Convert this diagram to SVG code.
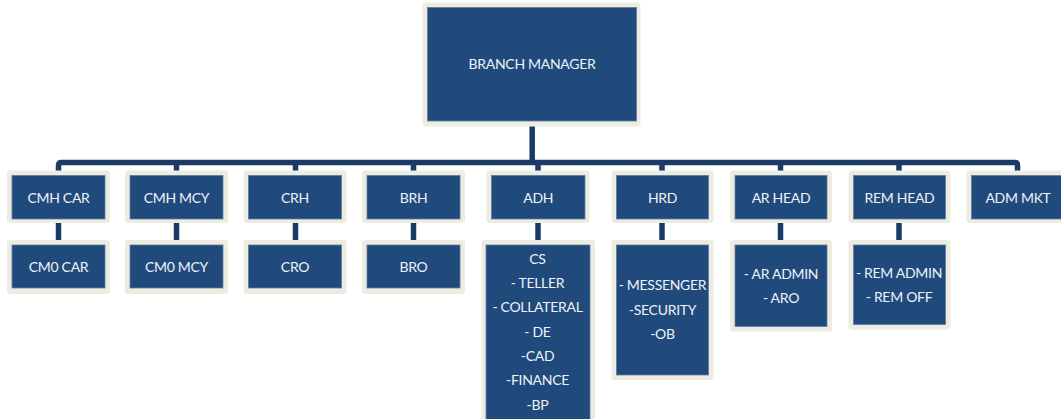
<svg xmlns="http://www.w3.org/2000/svg" width="1061" height="419" viewBox="0 0 1061 419">
  <style>
    .frame { fill: #EEECE1; }
    .box { fill: #204A7C; stroke: #5B7DA8; stroke-width: 0.8; }
    .lbl { font-family: Lato, "Open Sans", "Liberation Sans", sans-serif; font-size: 14px; letter-spacing: -0.3px; fill: #EEF2F8; text-anchor: middle; }
    .wire { fill: none; stroke: #1B3A64; stroke-width: 5.5; }
  </style>
  <rect width="1061" height="419" fill="#FFFFFF"/>

  <!-- reporting lines -->
  <g id="connectors">
    <line class="wire" x1="532.2" y1="120" x2="532.2" y2="163"/>
    <path class="wire" d="M58.5,176 V165.5 Q58.5,162.5 61.5,162.5 H1014.5 Q1017.5,162.5 1017.5,165.5 V176"/>
    <line class="wire" x1="176.5" y1="162.5" x2="176.5" y2="176"/>
    <line class="wire" x1="295.5" y1="162.5" x2="295.5" y2="176"/>
    <line class="wire" x1="413.5" y1="162.5" x2="413.5" y2="176"/>
    <line class="wire" x1="538" y1="162.5" x2="538" y2="176"/>
    <line class="wire" x1="662" y1="162.5" x2="662" y2="176"/>
    <line class="wire" x1="780.5" y1="162.5" x2="780.5" y2="176"/>
    <line class="wire" x1="899" y1="162.5" x2="899" y2="176"/>
    <line class="wire" x1="58.5" y1="218" x2="58.5" y2="246"/>
    <line class="wire" x1="176.5" y1="218" x2="176.5" y2="246"/>
    <line class="wire" x1="295.5" y1="218" x2="295.5" y2="246"/>
    <line class="wire" x1="413.5" y1="218" x2="413.5" y2="246"/>
    <line class="wire" x1="538" y1="218" x2="538" y2="246"/>
    <line class="wire" x1="662" y1="218" x2="662" y2="246"/>
    <line class="wire" x1="780.5" y1="218" x2="780.5" y2="246"/>
    <line class="wire" x1="899" y1="218" x2="899" y2="246"/>
  </g>

  <g id="branch-manager">
    <rect class="frame" x="422.5" y="2.5" width="218" height="124" rx="3"/>
    <rect class="box" x="427.5" y="7.5" width="209" height="113.5"/>
    <text class="lbl" x="532" y="69">BRANCH MANAGER</text>
  </g>

  <!-- heads -->
  <g id="cmh-car">
    <rect class="frame" x="7" y="170.5" width="103" height="52.5" rx="3"/>
    <rect class="box" x="12" y="175.5" width="93" height="43.5"/>
    <text class="lbl" x="58.5" y="202.5">CMH CAR</text>
  </g>
  <g id="cmh-mcy">
    <rect class="frame" x="125" y="170.5" width="103" height="52.5" rx="3"/>
    <rect class="box" x="130" y="175.5" width="93" height="43.5"/>
    <text class="lbl" x="176.5" y="202.5">CMH MCY</text>
  </g>
  <g id="crh">
    <rect class="frame" x="243.5" y="170.5" width="103" height="52.5" rx="3"/>
    <rect class="box" x="248.5" y="175.5" width="93" height="43.5"/>
    <text class="lbl" x="295" y="202.5">CRH</text>
  </g>
  <g id="brh">
    <rect class="frame" x="362" y="170.5" width="103" height="52.5" rx="3"/>
    <rect class="box" x="367" y="175.5" width="93" height="43.5"/>
    <text class="lbl" x="413.5" y="202.5">BRH</text>
  </g>
  <g id="adh">
    <rect class="frame" x="486.5" y="170.5" width="103" height="52.5" rx="3"/>
    <rect class="box" x="491.5" y="175.5" width="93.5" height="43.5"/>
    <text class="lbl" x="538.2" y="202.5">ADH</text>
  </g>
  <g id="hrd">
    <rect class="frame" x="611.5" y="170.5" width="102" height="52.5" rx="3"/>
    <rect class="box" x="616.5" y="175.5" width="92" height="43.5"/>
    <text class="lbl" x="662.5" y="202.5">HRD</text>
  </g>
  <g id="ar-head">
    <rect class="frame" x="730" y="170.5" width="102" height="52.5" rx="3"/>
    <rect class="box" x="735" y="175.5" width="92" height="43.5"/>
    <text class="lbl" x="781" y="202.5">AR HEAD</text>
  </g>
  <g id="rem-head">
    <rect class="frame" x="848.5" y="170.5" width="102" height="52.5" rx="3"/>
    <rect class="box" x="853.5" y="175.5" width="92" height="43.5"/>
    <text class="lbl" x="899.5" y="202.5">REM HEAD</text>
  </g>
  <g id="adm-mkt">
    <rect class="frame" x="966.5" y="170.5" width="105" height="52.5" rx="3"/>
    <rect class="box" x="971.5" y="175.5" width="95" height="43.5"/>
    <text class="lbl" x="1018" y="202.5">ADM MKT</text>
  </g>

  <!-- staff -->
  <g id="cm0-car">
    <rect class="frame" x="7" y="240" width="103" height="54" rx="3"/>
    <rect class="box" x="12" y="245" width="93" height="43"/>
    <text class="lbl" x="58.5" y="271.5">CM0 CAR</text>
  </g>
  <g id="cm0-mcy">
    <rect class="frame" x="125" y="240" width="103" height="54" rx="3"/>
    <rect class="box" x="130" y="245" width="93" height="43"/>
    <text class="lbl" x="176.5" y="271.5">CM0 MCY</text>
  </g>
  <g id="cro">
    <rect class="frame" x="243.5" y="240" width="103" height="54" rx="3"/>
    <rect class="box" x="248.5" y="245" width="93" height="43"/>
    <text class="lbl" x="295" y="271.5">CRO</text>
  </g>
  <g id="bro">
    <rect class="frame" x="362" y="240" width="103" height="54" rx="3"/>
    <rect class="box" x="367" y="245" width="93" height="43"/>
    <text class="lbl" x="413.5" y="271.5">BRO</text>
  </g>
  <g id="adh-staff">
    <rect class="frame" x="481.5" y="240" width="113.5" height="190" rx="3"/>
    <rect class="box" x="486" y="245" width="104" height="185"/>
    <text class="lbl" x="537.5" y="263.5">CS</text>
    <text class="lbl" x="537.5" y="288">- TELLER</text>
    <text class="lbl" x="537.5" y="312.2">- COLLATERAL</text>
    <text class="lbl" x="537.5" y="336.6">- DE</text>
    <text class="lbl" x="537.5" y="361">-CAD</text>
    <text class="lbl" x="537.5" y="385.4">-FINANCE</text>
    <text class="lbl" x="537.5" y="409.8">-BP</text>
  </g>
  <g id="hrd-staff">
    <rect class="frame" x="611.5" y="240" width="102" height="140" rx="3"/>
    <rect class="box" x="616.5" y="245" width="92" height="130"/>
    <text class="lbl" x="662.5" y="290">- MESSENGER</text>
    <text class="lbl" x="662.5" y="314.5">-SECURITY</text>
    <text class="lbl" x="662.5" y="339">-OB</text>
  </g>
  <g id="ar-staff">
    <rect class="frame" x="730" y="240" width="102" height="91.5" rx="3"/>
    <rect class="box" x="735" y="245" width="92" height="81.5"/>
    <text class="lbl" x="781" y="278.5">- AR ADMIN</text>
    <text class="lbl" x="781" y="303">- ARO</text>
  </g>
  <g id="rem-staff">
    <rect class="frame" x="848.5" y="240" width="102" height="89.5" rx="3"/>
    <rect class="box" x="853.5" y="245" width="92" height="79.5"/>
    <text class="lbl" x="899" y="277.5">- REM ADMIN</text>
    <text class="lbl" x="899" y="302">- REM OFF</text>
  </g>
</svg>
